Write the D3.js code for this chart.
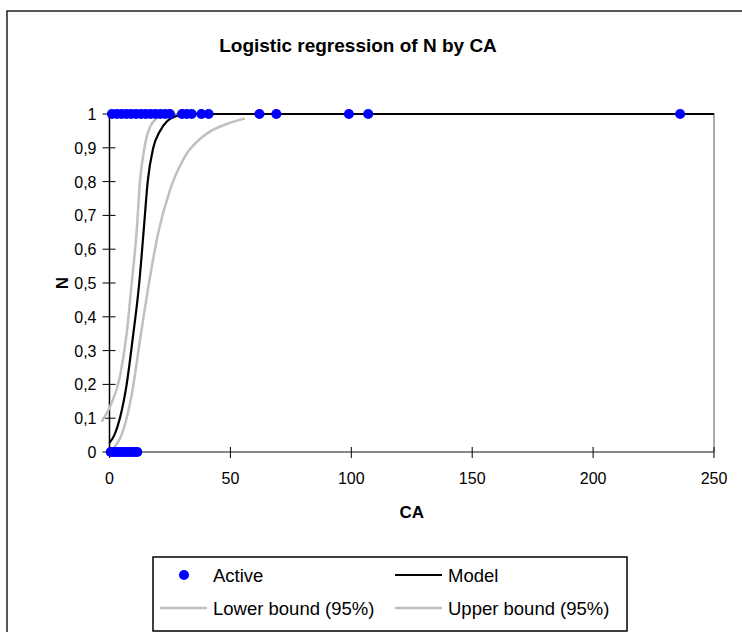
<!DOCTYPE html>
<html>
<head>
<meta charset="utf-8">
<script src="https://cdn.jsdelivr.net/npm/d3@7"></script>
<style>
  body { margin: 0; background: #fff; }
  text { font-family: "Liberation Sans", Arial, sans-serif; fill: #000; }
</style>
</head>
<body>
<svg id="chart" width="742" height="632"></svg>
<script>
// observations (CA value, N = 0 or 1)
const activeOnes = [1, 3, 5, 7, 9, 11, 13, 15, 17, 19, 21, 23, 25, 30, 32, 34, 38, 41, 62, 69, 99, 107, 236];
const activeZeros = [0.5, 1.5, 2.5, 3.5, 4.5, 5.5, 6.5, 7.5, 8.5, 9.5, 10.5, 11.5];

// curves
const modelX = [0, 2, 4.3, 7.1, 9.5, 12.3, 14.3, 15.8, 18.1, 20.9, 24, 28, 32, 250];
const modelY = [0.027, 0.05, 0.1, 0.2, 0.33, 0.5, 0.67, 0.8, 0.9, 0.95, 0.98, 0.995, 1, 1];
const lowerX = [-3.2, 0.2, 4.3, 7.1, 9.2, 11.2, 12.6, 14.7, 17.4, 21.6, 24];
const lowerY = [0.09, 0.134, 0.223, 0.35, 0.5, 0.65, 0.8, 0.91, 0.97, 0.995, 0.999];
const upperX = [1.6, 5.7, 9.2, 12.6, 16.1, 20.2, 25, 31.2, 39.5, 49.1, 56];
const upperY = [0.01, 0.065, 0.17, 0.33, 0.49, 0.65, 0.775, 0.874, 0.938, 0.972, 0.987];

const xTicks = [0, 50, 100, 150, 200, 250];
const yTicks = [0, 0.1, 0.2, 0.3, 0.4, 0.5, 0.6, 0.7, 0.8, 0.9, 1];

const svg = d3.select("#chart");
const blue = "#0000ff", gray = "#c0c0c0";

// outer chart frame
svg.append("rect")
    .attr("x", 7).attr("y", 11)
    .attr("width", 760).attr("height", 660)
    .attr("fill", "none").attr("stroke", "#222").attr("stroke-width", 1.5);

const x = d3.scaleLinear().domain([0, 250]).range([109.5, 714]);
const y = d3.scaleLinear().domain([0, 1]).range([452, 114]);

// plot area border (right + top)
svg.append("path")
    .attr("d", `M${x(0)},${y(1)}H${x(250)}V${y(0)}`)
    .attr("fill", "none").attr("stroke", "#808080").attr("stroke-width", 1.3);

// x axis
const xAxis = svg.append("g").attr("transform", `translate(0,${y(0)})`);
xAxis.append("line")
    .attr("x1", x(0)).attr("x2", x(250))
    .attr("stroke", "#606060").attr("stroke-width", 1.5);
xAxis.selectAll(".xt").data(xTicks).enter().append("line")
    .attr("x1", d => x(d)).attr("x2", d => x(d))
    .attr("y1", -5).attr("y2", 6)
    .attr("stroke", "#000").attr("stroke-width", 1);
xAxis.selectAll(".xl").data(xTicks).enter().append("text")
    .attr("x", d => x(d)).attr("y", 32)
    .attr("text-anchor", "middle")
    .attr("font-size", "16px")
    .text(d => d);

// y axis
const yAxis = svg.append("g").attr("transform", `translate(${x(0)},0)`);
yAxis.append("line")
    .attr("y1", y(0)).attr("y2", y(1))
    .attr("stroke", "#000").attr("stroke-width", 1.5);
yAxis.selectAll(".yt").data(yTicks).enter().append("line")
    .attr("y1", d => y(d)).attr("y2", d => y(d))
    .attr("x1", -7).attr("x2", 6)
    .attr("stroke", "#000").attr("stroke-width", 1);
yAxis.selectAll(".yl").data(yTicks).enter().append("text")
    .attr("x", -13).attr("y", d => y(d) + 6)
    .attr("text-anchor", "end")
    .attr("font-size", "16px")
    .text(d => d3.format(".1~f")(d).replace(".", ","));

// curves
const line = d3.line()
    .x(d => x(d[0])).y(d => y(d[1]))
    .curve(d3.curveMonotoneX);

function drawCurve(xs, ys, color, width) {
    svg.append("path")
        .datum(d3.zip(xs, ys))
        .attr("d", line)
        .attr("fill", "none")
        .attr("stroke", color)
        .attr("stroke-width", width);
}
drawCurve(lowerX, lowerY, gray, 2.5);
drawCurve(upperX, upperY, gray, 2.5);
drawCurve(modelX, modelY, "#000", 2.2);

// points
const points = activeOnes.map(v => [v, 1]).concat(activeZeros.map(v => [v, 0]));
svg.selectAll(".pt").data(points).enter().append("circle")
    .attr("cx", d => x(d[0])).attr("cy", d => y(d[1]))
    .attr("r", 5)
    .attr("fill", blue);

// titles
svg.append("text")
    .attr("x", 358).attr("y", 52)
    .attr("text-anchor", "middle")
    .attr("font-size", "19px").attr("font-weight", "bold")
    .text("Logistic regression of N by CA");

svg.append("text")
    .attr("x", (x(0) + x(250)) / 2).attr("y", 518)
    .attr("text-anchor", "middle")
    .attr("font-size", "17px").attr("font-weight", "bold")
    .text("CA");

svg.append("text")
    .attr("transform", `translate(68,${(y(0) + y(1)) / 2}) rotate(-90)`)
    .attr("text-anchor", "middle")
    .attr("font-size", "17px").attr("font-weight", "bold")
    .text("N");

// legend
const legend = svg.append("g");
legend.append("rect")
    .attr("x", 153).attr("y", 557)
    .attr("width", 474).attr("height", 74)
    .attr("fill", "#fff").attr("stroke", "#000").attr("stroke-width", 1.5);

const legendItems = [
    { label: "Active", type: "dot", color: blue, lx: 160, tx: 213, row: 0 },
    { label: "Model", type: "line", color: "#000", lx: 395, tx: 448, row: 0 },
    { label: "Lower bound (95%)", type: "line", color: gray, lx: 160, tx: 213, row: 1 },
    { label: "Upper bound (95%)", type: "line", color: gray, lx: 395, tx: 448, row: 1 }
];
const rowY = [575, 608];

legendItems.forEach(item => {
    const cy = rowY[item.row];
    if (item.type === "dot") {
        legend.append("circle")
            .attr("cx", 184).attr("cy", cy).attr("r", 5)
            .attr("fill", item.color);
    } else {
        legend.append("line")
            .attr("x1", item.lx).attr("x2", item.tx - 6)
            .attr("y1", cy).attr("y2", cy)
            .attr("stroke", item.color)
            .attr("stroke-width", item.color === gray ? 2.5 : 2.2);
    }
    legend.append("text")
        .attr("x", item.tx).attr("y", cy + 6.5)
        .attr("font-size", "18.5px")
        .text(item.label);
});
</script>
</body>
</html>
